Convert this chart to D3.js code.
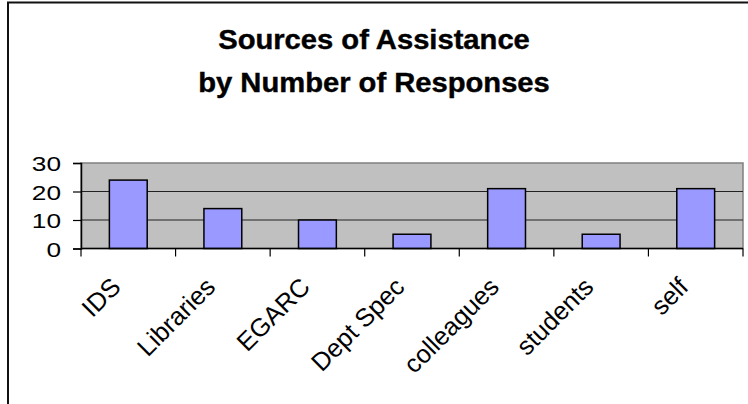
<!DOCTYPE html>
<html>
<head>
<meta charset="utf-8">
<script src="https://cdn.jsdelivr.net/npm/d3@7"></script>
<style>
  body { margin: 0; background: #fff; }
  text { font-family: Arial, "Liberation Sans", sans-serif; fill: #000; }
</style>
</head>
<body>
<div id="chart"></div>
<script>
const categories = ["IDS", "Libraries", "EGARC", "Dept Spec", "colleagues", "students", "self"];
const responses = [24, 14, 10, 5, 21, 5, 21];
const yTicks = [0, 10, 20, 30];
const titleLines = ["Sources of Assistance", "by Number of Responses"];

const width = 748, height = 404;
const plot = { left: 81, right: 743, top: 163, bottom: 248.5 };

const svg = d3.select("#chart")
    .append("svg")
    .attr("width", width)
    .attr("height", height);

// Chart frame (runs off the right and bottom of the picture)
svg.append("rect")
    .attr("x", 8).attr("y", 2.5)
    .attr("width", 800).attr("height", 500)
    .attr("fill", "#fff")
    .attr("stroke", "#111")
    .attr("stroke-width", 2);

// Title, slightly stretched sideways like the original
const title = svg.append("g")
    .attr("transform", "translate(374,0) scale(1.08,1)");
title.selectAll("text")
    .data(titleLines)
    .enter()
    .append("text")
    .attr("y", (d, i) => 49 + i * 43)
    .attr("text-anchor", "middle")
    .style("font-size", "27px")
    .style("font-weight", "bold")
    .style("stroke", "#000")
    .style("stroke-width", 0.4)
    .text(d => d);

const x = d3.scaleBand()
    .domain(categories)
    .range([plot.left, plot.right])
    .paddingInner(0.6)
    .paddingOuter(0.3);

const xOuter = d3.scaleBand()
    .domain(categories)
    .range([plot.left, plot.right]);

const y = d3.scaleLinear()
    .domain([0, 30])
    .range([plot.bottom, plot.top]);

// Plot area
svg.append("rect")
    .attr("x", plot.left).attr("y", plot.top)
    .attr("width", plot.right - plot.left)
    .attr("height", plot.bottom - plot.top)
    .attr("fill", "#c0c0c0")
    .attr("stroke", "#808080")
    .attr("stroke-width", 1.5);

// Gridlines
svg.selectAll(".grid")
    .data(yTicks.filter(d => d > 0 && d < 30))
    .enter()
    .append("line")
    .attr("class", "grid")
    .attr("x1", plot.left).attr("x2", plot.right)
    .attr("y1", d => y(d)).attr("y2", d => y(d))
    .attr("stroke", "#222")
    .attr("stroke-width", 1);

// Bars
svg.selectAll(".bar")
    .data(responses)
    .enter()
    .append("rect")
    .attr("class", "bar")
    .attr("x", (d, i) => x(categories[i]))
    .attr("width", x.bandwidth())
    .attr("y", d => y(d))
    .attr("height", d => y(0) - y(d))
    .attr("fill", "#9999ff")
    .attr("stroke", "#000")
    .attr("stroke-width", 1.5);

// Y axis
const yAxis = svg.append("g")
    .attr("transform", `translate(${plot.left},0)`)
    .call(d3.axisLeft(y).tickValues(yTicks).tickSize(8));
yAxis.select(".domain").attr("stroke", "#000").attr("stroke-width", 1.5);
yAxis.selectAll(".tick line").attr("stroke", "#000").attr("stroke-width", 1.2);
yAxis.selectAll(".tick text")
    .attr("x", 0)
    .attr("dy", null)
    .attr("y", 7.5)
    .attr("transform", "translate(-20,0) scale(1.25,1)")
    .style("font-size", "21px")
    .style("font-family", "Arial, 'Liberation Sans', sans-serif");

// X axis: ticks on the category boundaries
const xAxis = svg.append("g")
    .attr("transform", `translate(0,${plot.bottom})`);
xAxis.append("line")
    .attr("x1", plot.left).attr("x2", plot.right)
    .attr("stroke", "#000").attr("stroke-width", 1.5);
xAxis.selectAll(".tick")
    .data(categories.concat([null]))
    .enter()
    .append("line")
    .attr("class", "tick")
    .attr("x1", (d, i) => plot.left + i * xOuter.bandwidth())
    .attr("x2", (d, i) => plot.left + i * xOuter.bandwidth())
    .attr("y1", 0).attr("y2", 8)
    .attr("stroke", "#000").attr("stroke-width", 1.2);

// Rotated category labels
xAxis.selectAll(".label")
    .data(categories)
    .enter()
    .append("text")
    .attr("class", "label")
    .attr("text-anchor", "end")
    .attr("transform", d => `translate(${xOuter(d) + xOuter.bandwidth() / 2 - 6},40) rotate(-45)`)
    .style("font-size", "25.5px")
    .text(d => d);
</script>
</body>
</html>
